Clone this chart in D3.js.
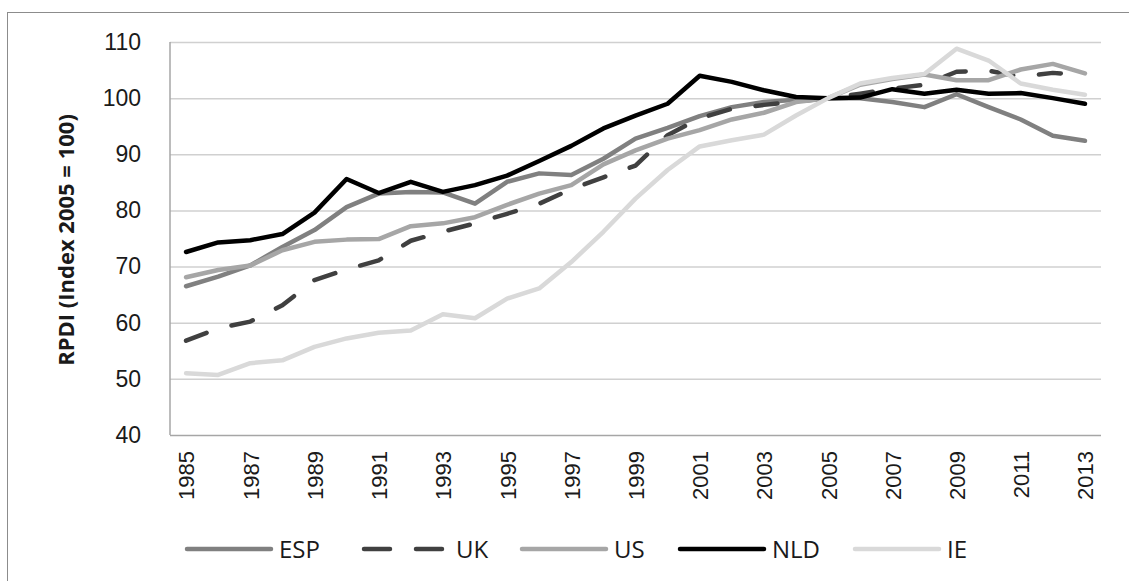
<!DOCTYPE html>
<html>
<head>
<meta charset="utf-8">
<script src="https://cdn.jsdelivr.net/npm/d3@7"></script>
<style>
  body { margin: 0; background: #fff; }
  svg { display: block; font-family: "Open Sans", sans-serif; }
</style>
</head>
<body>
<script>
const years = d3.range(1985, 2014);
const yearLabels = years.filter(y => y % 2 === 1);
const yTicks = [40, 50, 60, 70, 80, 90, 100, 110];

const esp = [66.5, 68.2, 70.2, 73.5, 76.5, 80.6, 83.0, 83.3, 83.2, 81.2, 85.1, 86.6, 86.3, 89.2, 92.8, 94.7, 96.8, 98.4, 99.3, 99.7, 100, 100.0, 99.3, 98.4, 100.7, 98.4, 96.2, 93.3, 92.4];
const uk = [56.8, 59.0, 60.2, 63.1, 67.6, 69.5, 71.1, 74.6, 76.2, 77.7, 79.4, 81.2, 83.8, 85.9, 88.0, 93.4, 96.4, 98.1, 98.8, 99.4, 100, 100.8, 101.7, 102.4, 104.7, 104.9, 103.8, 104.5, 104.1];
const us = [68.1, 69.4, 70.2, 72.9, 74.4, 74.8, 74.9, 77.2, 77.7, 78.8, 81.0, 83.0, 84.5, 88.2, 90.7, 92.8, 94.3, 96.2, 97.4, 99.3, 100, 102.4, 103.4, 104.2, 103.2, 103.2, 105.1, 106.1, 104.4];
const nld = [72.6, 74.3, 74.7, 75.8, 79.6, 85.6, 83.1, 85.1, 83.3, 84.5, 86.2, 88.8, 91.5, 94.6, 96.9, 99.0, 104.0, 102.9, 101.4, 100.2, 100, 100.1, 101.6, 100.8, 101.5, 100.8, 100.9, 100.0, 99.0];
const ie = [51.0, 50.7, 52.8, 53.3, 55.7, 57.2, 58.2, 58.6, 61.5, 60.8, 64.3, 66.1, 70.8, 76.2, 82.1, 87.2, 91.4, 92.5, 93.5, 96.9, 100, 102.6, 103.6, 104.3, 108.8, 106.7, 102.6, 101.5, 100.6];

const series = [
  { name: "ESP", values: esp, color: "#808080", dash: null },
  { name: "UK", values: uk, color: "#404040", dash: "22,26" },
  { name: "US", values: us, color: "#a6a6a6", dash: null },
  { name: "NLD", values: nld, color: "#000000", dash: null },
  { name: "IE", values: ie, color: "#d9d9d9", dash: null }
];

const width = 1129;
const height = 581;
const plot = { left: 170, right: 1101, top: 42, bottom: 435 };

const svg = d3.select("body")
  .append("svg")
  .attr("width", width)
  .attr("height", height);

// outer chart border
svg.append("rect")
  .attr("x", 7.5)
  .attr("y", 12.5)
  .attr("width", width)
  .attr("height", height)
  .attr("fill", "none")
  .attr("stroke", "#8c8c8c");

const x = d3.scalePoint()
  .domain(years)
  .range([plot.left, plot.right])
  .padding(0.5);

const y = d3.scaleLinear()
  .domain([40, 110])
  .range([plot.bottom, plot.top]);

// y axis with gridlines
const yAxis = svg.append("g")
  .attr("transform", `translate(${plot.left},0)`)
  .call(d3.axisLeft(y)
    .tickValues(yTicks)
    .tickSize(-(plot.right - plot.left))
    .tickPadding(29));
yAxis.select(".domain").remove();
yAxis.selectAll("line")
  .attr("stroke", d => d === 40 ? "#a6a6a6" : "#d0d0d0")
  .attr("stroke-width", 1.5);
yAxis.selectAll("text")
  .attr("font-size", 23)
  .attr("fill", "#1a1a1a");

svg.append("line")
  .attr("x1", plot.left)
  .attr("x2", plot.left)
  .attr("y1", plot.top)
  .attr("y2", plot.bottom)
  .attr("stroke", "#a6a6a6")
  .attr("stroke-width", 1.5);

// x axis
const xAxis = svg.append("g")
  .attr("transform", `translate(0,${plot.bottom})`)
  .call(d3.axisBottom(x).tickValues(yearLabels).tickSize(0));
xAxis.select(".domain").remove();
xAxis.selectAll("text")
  .attr("font-size", 22)
  .attr("fill", "#1a1a1a")
  .attr("text-anchor", "end")
  .attr("transform", "rotate(-90)")
  .attr("x", -16)
  .attr("y", 0)
  .attr("dy", "0.36em");

// y axis title
svg.append("text")
  .attr("transform", "translate(74,240) rotate(-90)")
  .attr("text-anchor", "middle")
  .attr("font-size", 22)
  .attr("font-weight", "bold")
  .attr("fill", "#1a1a1a")
  .text("RPDI (Index 2005 = 100)");

const line = d3.line()
  .x((d, i) => x(years[i]))
  .y(d => y(d));

svg.append("g")
  .selectAll("path")
  .data(series)
  .join("path")
  .attr("d", s => line(s.values))
  .attr("fill", "none")
  .attr("stroke", s => s.color)
  .attr("stroke-width", 4.5)
  .attr("stroke-linejoin", "round")
  .attr("stroke-linecap", "round")
  .attr("stroke-dasharray", s => s.dash);

// legend
const legendX = [187, 364, 522, 680, 855];
const legend = svg.append("g")
  .selectAll("g")
  .data(series)
  .join("g")
  .attr("transform", (s, i) => `translate(${legendX[i]},549)`);

legend.append("line")
  .attr("x1", 0)
  .attr("x2", s => s.dash ? 80 : 84)
  .attr("stroke", s => s.color)
  .attr("stroke-width", 4.5)
  .attr("stroke-linecap", "round")
  .attr("stroke-dasharray", s => s.dash ? "26,26" : null);

legend.append("text")
  .attr("x", 92)
  .attr("dy", "0.36em")
  .attr("font-size", 24)
  .attr("fill", "#1a1a1a")
  .text(s => s.name);
</script>
</body>
</html>
